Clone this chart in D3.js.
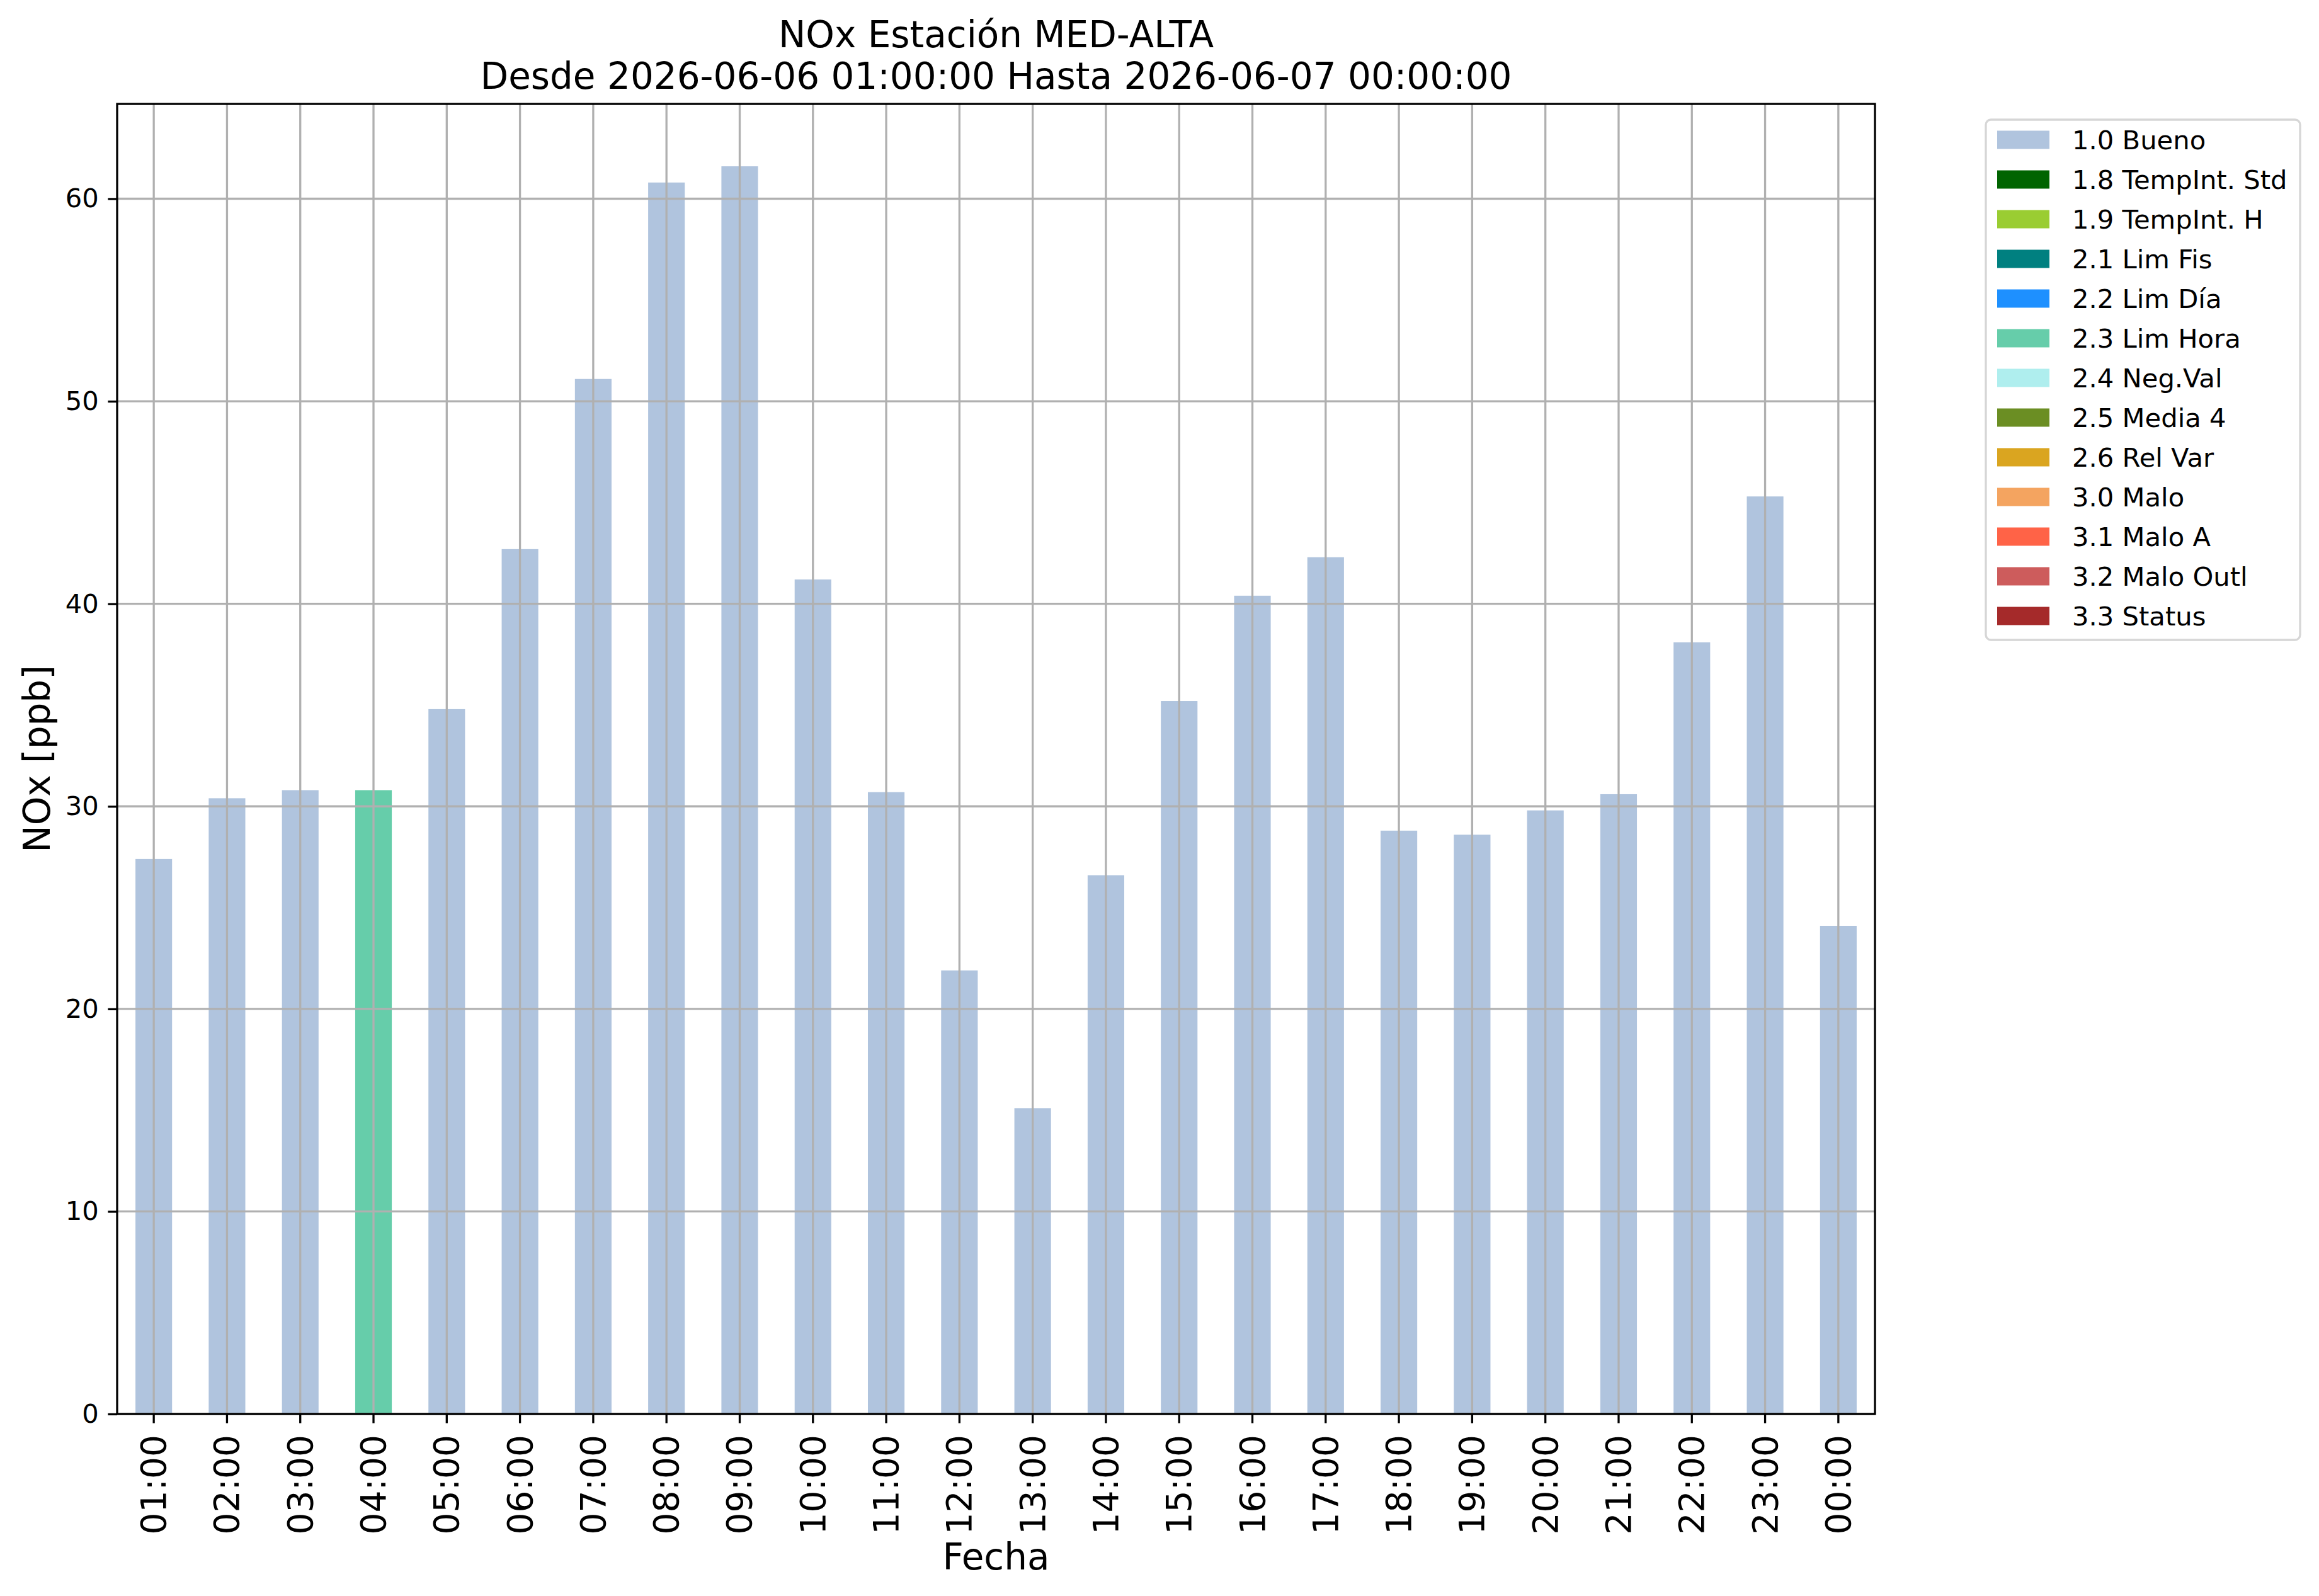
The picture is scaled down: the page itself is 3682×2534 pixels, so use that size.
<!DOCTYPE html>
<html>
<head>
<meta charset="utf-8">
<script src="https://cdn.jsdelivr.net/npm/d3@7"></script>
<style>
  body { margin: 0; background: #fff; }
  svg { font-family: "DejaVu Sans", sans-serif; }
</style>
</head>
<body>
<div id="chart"></div>
<script>
// hourly NOx values and their validation flag
var hours = ["01:00", "02:00", "03:00", "04:00", "05:00", "06:00", "07:00", "08:00",
  "09:00", "10:00", "11:00", "12:00", "13:00", "14:00", "15:00", "16:00",
  "17:00", "18:00", "19:00", "20:00", "21:00", "22:00", "23:00", "00:00"]
var nox = [27.4, 30.4, 30.8, 30.8, 34.8, 42.7, 51.1, 60.8,
  61.6, 41.2, 30.7, 21.9, 15.1, 26.6, 35.2, 40.4,
  42.3, 28.8, 28.6, 29.8, 30.6, 38.1, 45.3, 24.1]
var flags = ["1.0", "1.0", "1.0", "2.3", "1.0", "1.0", "1.0", "1.0",
  "1.0", "1.0", "1.0", "1.0", "1.0", "1.0", "1.0", "1.0",
  "1.0", "1.0", "1.0", "1.0", "1.0", "1.0", "1.0", "1.0"]

var flagCodes  = ["1.0", "1.8", "1.9", "2.1", "2.2", "2.3", "2.4", "2.5", "2.6", "3.0", "3.1", "3.2", "3.3"]
var flagNames  = ["1.0 Bueno", "1.8 TempInt. Std", "1.9 TempInt. H", "2.1 Lim Fis", "2.2 Lim Día",
  "2.3 Lim Hora", "2.4 Neg.Val", "2.5 Media 4", "2.6 Rel Var", "3.0 Malo", "3.1 Malo A",
  "3.2 Malo Outl", "3.3 Status"]
var flagColors = ["#b0c4de", "#006400", "#9acd32", "#008080", "#1e90ff", "#66cdaa", "#afeeee",
  "#6b8e23", "#daa520", "#f4a460", "#ff6347", "#cd5c5c", "#a52a2a"]
var yTicks = [0, 10, 20, 30, 40, 50, 60]

var W = 3682, H = 2534
var margin = { top: 165, right: 705, bottom: 289, left: 186 }
var width = W - margin.left - margin.right,
  height = H - margin.top - margin.bottom

var data = hours.map((h, i) => ({ hour: h, value: nox[i], flag: flags[i] }))

var svg = d3.select("#chart").append("svg")
  .attr("width", W)
  .attr("height", H)

var g = svg.append("g")
  .attr("transform", `translate(${margin.left},${margin.top})`)

var x = d3.scaleBand()
  .domain(hours)
  .range([0, width])
  .paddingInner(0.5)
  .paddingOuter(0.25)

var y = d3.scaleLinear()
  .domain([0, d3.max(nox) * 1.05])
  .range([height, 0])

var color = d3.scaleOrdinal()
  .domain(flagCodes)
  .range(flagColors)

// bars
g.selectAll("rect.bar")
  .data(data)
  .enter().append("rect")
  .attr("class", "bar")
  .attr("x", d => x(d.hour))
  .attr("y", d => y(d.value))
  .attr("width", x.bandwidth())
  .attr("height", d => y(0) - y(d.value))
  .attr("fill", d => color(d.flag))

// grid on top of the bars, like the original
var grid = g.append("g").attr("class", "grid")
grid.selectAll("line.gx")
  .data(hours)
  .enter().append("line")
  .attr("x1", d => x(d) + x.bandwidth() / 2)
  .attr("x2", d => x(d) + x.bandwidth() / 2)
  .attr("y1", 0)
  .attr("y2", height)
  .attr("stroke", "#b0b0b0")
  .attr("stroke-width", 3.3)
grid.selectAll("line.gy")
  .data(yTicks)
  .enter().append("line")
  .attr("x1", 0)
  .attr("x2", width)
  .attr("y1", d => y(d))
  .attr("y2", d => y(d))
  .attr("stroke", "#b0b0b0")
  .attr("stroke-width", 3.3)

// axes
var yAxis = g.append("g")
  .call(d3.axisLeft(y).tickValues(yTicks).tickSize(14.6).tickPadding(14.6).tickSizeOuter(0))
yAxis.select(".domain").remove()
yAxis.selectAll("line").attr("stroke", "#000").attr("stroke-width", 3.3)
yAxis.selectAll("text")
  .style("font-size", "41.7px")
  .style("font-family", "DejaVu Sans")
  .attr("fill", "#000")

var xAxis = g.append("g")
  .attr("transform", `translate(0,${height})`)
  .call(d3.axisBottom(x).tickSize(14.6).tickSizeOuter(0))
xAxis.select(".domain").remove()
xAxis.selectAll("line").attr("stroke", "#000").attr("stroke-width", 3.3)
xAxis.selectAll("text")
  .attr("y", 0)
  .attr("dy", null)
  .attr("transform", "translate(0,33) rotate(-90)")
  .attr("text-anchor", "end")
  .attr("dominant-baseline", "central")
  .style("font-size", "55px")
  .style("font-family", "DejaVu Sans")
  .attr("fill", "#000")

// frame
g.append("rect")
  .attr("width", width)
  .attr("height", height)
  .attr("fill", "none")
  .attr("stroke", "#000")
  .attr("stroke-width", 3.3)

// titles
svg.append("text")
  .attr("x", margin.left + width / 2)
  .attr("y", 75)
  .attr("text-anchor", "middle")
  .style("font-size", "58px")
  .text("NOx Estación MED-ALTA")
svg.append("text")
  .attr("x", margin.left + width / 2)
  .attr("y", 141)
  .attr("text-anchor", "middle")
  .style("font-size", "58px")
  .text("Desde 2026-06-06 01:00:00 Hasta 2026-06-07 00:00:00")

svg.append("text")
  .attr("x", margin.left + width / 2)
  .attr("y", 2492)
  .attr("text-anchor", "middle")
  .style("font-size", "58px")
  .text("Fecha")

svg.append("text")
  .attr("transform", `translate(79,${margin.top + height / 2}) rotate(-90)`)
  .attr("text-anchor", "middle")
  .style("font-size", "58px")
  .text("NOx [ppb]")

// legend
var legend = svg.append("g")
  .attr("transform", "translate(3153,190)")

legend.append("rect")
  .attr("width", 499)
  .attr("height", 826)
  .attr("rx", 8)
  .attr("fill", "#fff")
  .attr("stroke", "#d6d6d6")
  .attr("stroke-width", 3.3)

var item = legend.selectAll("g.item")
  .data(flagNames)
  .enter().append("g")
  .attr("class", "item")
  .attr("transform", (d, i) => `translate(0,${32 + i * 63})`)

item.append("rect")
  .attr("x", 18)
  .attr("y", -14.5)
  .attr("width", 83)
  .attr("height", 29)
  .attr("fill", (d, i) => flagColors[i])

item.append("text")
  .attr("x", 137)
  .attr("y", 0)
  .attr("dy", "0.36em")
  .style("font-size", "41.7px")
  .text(d => d)
</script>
</body>
</html>
